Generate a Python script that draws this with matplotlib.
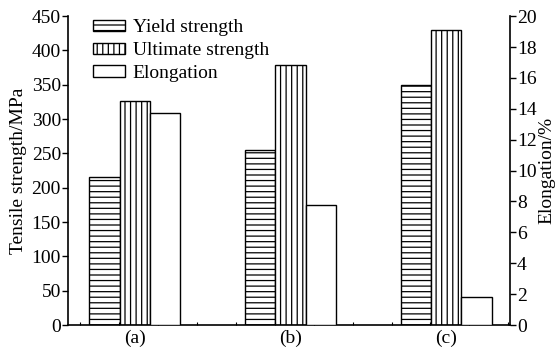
import matplotlib
matplotlib.use("Agg")
import matplotlib.pyplot as plt
import numpy as np
from matplotlib.ticker import FixedLocator, MultipleLocator

plt.rcParams['font.family'] = ['Liberation Serif', 'DejaVu Serif']
plt.rcParams['hatch.linewidth'] = 0.9

# data
samples = ['(a)', '(b)', '(c)']
yield_strength = [215, 255, 350]      # MPa
ultimate_strength = [327, 379, 430]   # MPa
elongation = [13.7, 7.8, 1.8]         # %

x = np.arange(len(samples))
w = 0.195

fig = plt.figure(figsize=(5.56, 3.51), dpi=100)
ax = fig.add_axes([0.122, 0.074, 0.795, 0.88])
ax2 = ax.twinx()

b1 = ax.bar(x - w, yield_strength, w, color='white', edgecolor='black',
            hatch='---', linewidth=1.0, label='Yield strength')
b2 = ax.bar(x, ultimate_strength, w, color='white', edgecolor='black',
            hatch='|||', linewidth=1.0, label='Ultimate strength')
b3 = ax2.bar(x + w, elongation, w, color='white', edgecolor='black',
             linewidth=1.0, label='Elongation')

ax.set_xlim(-0.43, 2.41)
ax.set_ylim(0, 450)
ax2.set_ylim(0, 20)
ax.yaxis.set_major_locator(MultipleLocator(50))
ax2.yaxis.set_major_locator(MultipleLocator(2))

ax.set_xticks(x)
ax.set_xticklabels(samples)
ax.xaxis.set_minor_locator(FixedLocator(np.arange(-0.35, 2.41, 0.25)))
ax.tick_params(axis='x', which='major', length=0, labelsize=14, pad=3)
ax.tick_params(axis='x', which='minor', direction='in', length=2.5, width=0.8)
ax.tick_params(axis='y', direction='out', length=4, width=1, labelsize=14, pad=1)
ax2.tick_params(axis='y', direction='out', length=4, width=1, labelsize=14, pad=1)

for a in (ax, ax2):
    a.spines['top'].set_visible(False)
    for s in ('left', 'right', 'bottom'):
        a.spines[s].set_linewidth(1.2)
ax.spines['right'].set_visible(False)
ax2.spines['left'].set_visible(False)
ax2.spines['bottom'].set_visible(False)

ax.set_ylabel('Tensile strength/MPa', fontsize=14, labelpad=3)
ax2.set_ylabel('Elongation/%', fontsize=14, labelpad=1)

ax.legend([b1, b2, b3], ['Yield strength', 'Ultimate strength', 'Elongation'],
          loc='upper left', bbox_to_anchor=(0.057, 0.99), frameon=False,
          fontsize=14, handlelength=1.65, handleheight=0.5,
          handletextpad=0.4, labelspacing=0.3, borderaxespad=0, borderpad=0)

fig.savefig('out.png', dpi=100)
